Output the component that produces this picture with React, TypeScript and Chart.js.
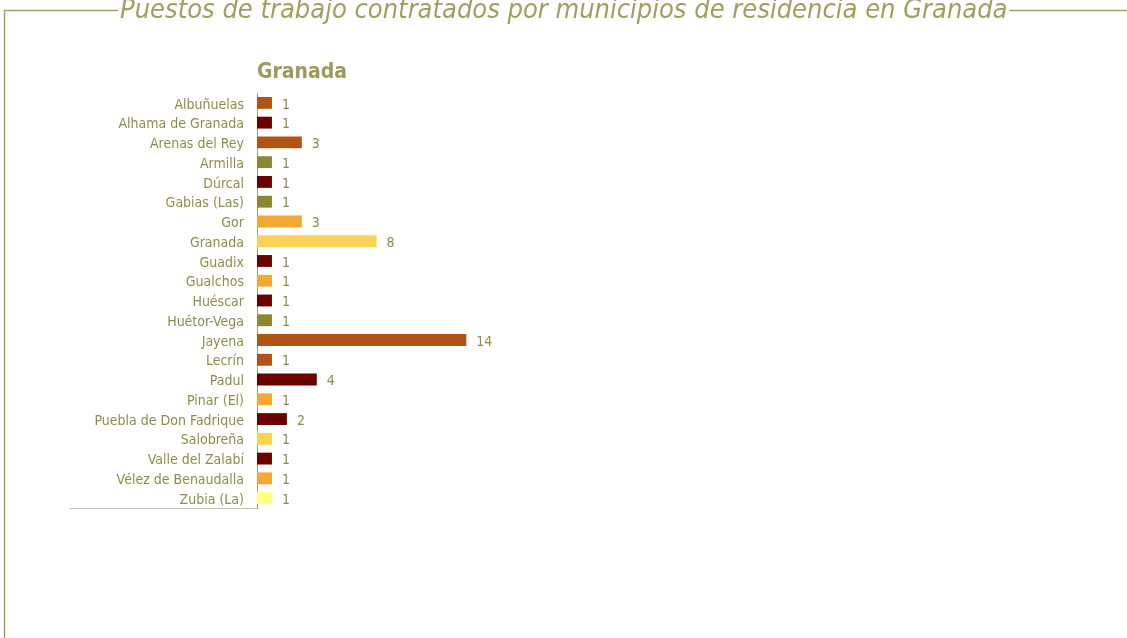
import React, { useEffect, useRef } from "react";
import { Chart, registerables } from "chart.js";

Chart.register(...registerables);

const municipios = [
  "Albuñuelas",
  "Alhama de Granada",
  "Arenas del Rey",
  "Armilla",
  "Dúrcal",
  "Gabias (Las)",
  "Gor",
  "Granada",
  "Guadix",
  "Gualchos",
  "Huéscar",
  "Huétor-Vega",
  "Jayena",
  "Lecrín",
  "Padul",
  "Pinar (El)",
  "Puebla de Don Fadrique",
  "Salobreña",
  "Valle del Zalabí",
  "Vélez de Benaudalla",
  "Zubia (La)",
];

const puestos = [1, 1, 3, 1, 1, 1, 3, 8, 1, 1, 1, 1, 14, 1, 4, 1, 2, 1, 1, 1, 1];

const colores = [
  "#B05316",
  "#6B0000",
  "#B05316",
  "#8A8835",
  "#6B0000",
  "#8A8835",
  "#F2A833",
  "#FBD153",
  "#6B0000",
  "#F2A833",
  "#6B0000",
  "#8A8835",
  "#B05316",
  "#B05316",
  "#6B0000",
  "#F2A833",
  "#6B0000",
  "#FBD153",
  "#6B0000",
  "#F2A833",
  "#FFFF80",
];

const titulo = "Puestos de trabajo contratados por municipios de residencia en Granada";
const subtitulo = "Granada";

const FONT = '"Liberation Sans Narrow", "DejaVu Sans Condensed", "Liberation Sans", sans-serif';
const OLIVE = "#8e8c48";
const FRAME = "#a3a165";

const decor = {
  id: "decor",
  afterDraw(chart: any) {
    const ctx = chart.ctx;
    ctx.save();
    // title
    ctx.font = `italic 27px ${FONT}`;
    ctx.fillStyle = "#a09e62";
    ctx.textAlign = "left";
    ctx.textBaseline = "alphabetic";
    const tx = 120;
    ctx.fillText(titulo, tx, 18);
    const tw = ctx.measureText(titulo).width;
    // frame
    ctx.strokeStyle = FRAME;
    ctx.lineWidth = 1.5;
    ctx.beginPath();
    ctx.moveTo(4.5, 638);
    ctx.lineTo(4.5, 10.5);
    ctx.lineTo(tx - 2, 10.5);
    ctx.moveTo(tx + tw + 2, 10.5);
    ctx.lineTo(1127, 10.5);
    ctx.stroke();
    // subtitle
    ctx.font = `bold 21px ${FONT}`;
    ctx.fillStyle = "#9c9a5a";
    ctx.fillText(subtitulo, chart.chartArea.left, 78);
    // bottom line
    ctx.strokeStyle = "#c4c3b0";
    ctx.lineWidth = 1;
    ctx.beginPath();
    ctx.moveTo(70, Math.round(chart.chartArea.bottom) + 0.5);
    ctx.lineTo(chart.chartArea.left, Math.round(chart.chartArea.bottom) + 0.5);
    ctx.stroke();
    // category labels (drawn at the y scale's tick positions)
    const ys = chart.scales.y;
    ctx.font = `14px ${FONT}`;
    ctx.fillStyle = OLIVE;
    ctx.textAlign = "right";
    ctx.textBaseline = "middle";
    municipios.forEach((m, i) => {
      ctx.fillText(m, chart.chartArea.left - 13, ys.getPixelForTick(i) + 2);
    });
    ctx.restore();
  },
  afterDatasetsDraw(chart: any) {
    const ctx = chart.ctx;
    const meta = chart.getDatasetMeta(0);
    ctx.save();
    ctx.font = `14px ${FONT}`;
    ctx.fillStyle = OLIVE;
    ctx.textAlign = "left";
    ctx.textBaseline = "middle";
    meta.data.forEach((el: any, i: number) => {
      ctx.fillText(String(puestos[i]), el.x + 10, el.y + 2);
    });
    ctx.restore();
  },
};

export default function App() {
  const ref = useRef<HTMLCanvasElement>(null);
  useEffect(() => {
    if (!ref.current) return;
    const chart = new Chart(ref.current, {
      type: "bar",
      data: {
        labels: municipios,
        datasets: [
          {
            data: puestos,
            backgroundColor: colores,
            borderWidth: 0,
            barPercentage: 0.6,
            categoryPercentage: 1,
          },
        ],
      },
      options: {
        indexAxis: "y",
        responsive: false,
        animation: false,
        layout: { padding: { top: 93, bottom: 130, left: 0, right: 571 } },
        plugins: { legend: { display: false }, tooltip: { enabled: false }, title: { display: false } },
        scales: {
          x: { display: false, min: 0, max: 20 },
          y: {
            afterFit(scale: any) {
              scale.width = 257;
            },
            grid: { display: false, drawTicks: false },
            border: { display: true, color: "#a3a06a", width: 1 },
            ticks: { display: false, autoSkip: false },
          },
        },
      },
      plugins: [decor],
    });
    return () => chart.destroy();
  }, []);
  return (
    <div style={{ position: "fixed", left: 0, top: 0, width: 1127, height: 638, background: "#fff" }}>
      <canvas ref={ref} width={1127} height={638} />
    </div>
  );
}
